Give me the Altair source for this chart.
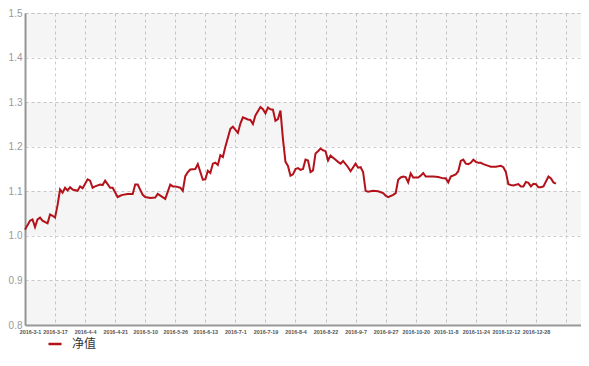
import altair as alt
import pandas as pd

# trading-day index and net value
days = [0, 2, 3, 4, 5, 6, 7, 9, 10, 11, 12, 13, 14, 15, 16, 17, 18, 19, 21, 22, 23, 25, 26, 27, 28,
        30, 31, 32, 34, 35, 37, 38, 39, 41, 43, 44, 45, 47, 48, 50, 52, 53, 56, 58, 59, 60, 62, 63,
        64, 65, 66, 68, 69, 71, 72, 73, 74, 75, 76, 77, 78, 79, 80, 82, 83, 85, 86, 87, 89, 90, 91,
        92, 94, 95, 96, 97, 98, 99, 100, 101, 102, 103, 104, 105, 106, 107, 108, 109, 110, 111, 112,
        113, 114, 115, 116, 117, 118, 119, 120, 121, 122, 124, 125, 126, 127, 129, 130, 132, 133,
        134, 135, 136, 137, 139, 141, 143, 144, 145, 147, 148, 149, 150, 151, 152, 153, 154, 155,
        157, 158, 159, 160, 163, 165, 167, 168, 169, 170, 172, 173, 174, 175, 176, 177, 178, 179,
        180, 181, 182, 183, 185, 186, 188, 190, 191, 192, 193, 194, 195, 197, 198, 199, 200, 201,
        202, 203, 204, 205, 206, 207, 209, 210, 211, 212]
nav = [1.014, 1.034, 1.037, 1.020, 1.037, 1.041, 1.034, 1.028, 1.048, 1.045, 1.041, 1.069, 1.104,
       1.097, 1.108, 1.102, 1.109, 1.104, 1.101, 1.111, 1.107, 1.127, 1.124, 1.108, 1.111, 1.115,
       1.114, 1.124, 1.108, 1.108, 1.087, 1.090, 1.092, 1.094, 1.094, 1.115, 1.115, 1.092, 1.087,
       1.085, 1.086, 1.094, 1.083, 1.115, 1.111, 1.111, 1.108, 1.101, 1.134, 1.143, 1.149, 1.150,
       1.161, 1.126, 1.127, 1.146, 1.141, 1.162, 1.164, 1.159, 1.181, 1.177, 1.200, 1.240, 1.245,
       1.231, 1.252, 1.266, 1.261, 1.260, 1.251, 1.270, 1.289, 1.284, 1.275, 1.288, 1.284, 1.283,
       1.258, 1.262, 1.281, 1.217, 1.166, 1.157, 1.135, 1.138, 1.150, 1.152, 1.148, 1.150, 1.171,
       1.169, 1.143, 1.147, 1.185, 1.190, 1.196, 1.192, 1.190, 1.169, 1.180, 1.171, 1.166, 1.162,
       1.168, 1.154, 1.145, 1.162, 1.153, 1.154, 1.143, 1.101, 1.099, 1.101, 1.100, 1.096, 1.090,
       1.087, 1.092, 1.096, 1.126, 1.131, 1.133, 1.132, 1.120, 1.140, 1.131, 1.131, 1.135, 1.141,
       1.133, 1.133, 1.132, 1.129, 1.129, 1.120, 1.133, 1.138, 1.145, 1.168, 1.171, 1.162, 1.161,
       1.164, 1.171, 1.166, 1.164, 1.164, 1.161, 1.157, 1.155, 1.155, 1.157, 1.154, 1.143, 1.116,
       1.114, 1.113, 1.116, 1.111, 1.111, 1.121, 1.119, 1.111, 1.117, 1.116, 1.109, 1.109, 1.111,
       1.133, 1.129, 1.120, 1.117]

x_labels = ["2016-3-1", "2016-3-17", "2016-4-4", "2016-4-21", "2016-5-10", "2016-5-26",
            "2016-6-13", "2016-7-1", "2016-7-19", "2016-8-4", "2016-8-22", "2016-9-7",
            "2016-9-27", "2016-10-20", "2016-11-8", "2016-11-24", "2016-12-12", "2016-12-28"]
y_ticks = [0.8, 0.9, 1.0, 1.1, 1.2, 1.3, 1.4, 1.5]
band_lo = [0.8, 1.0, 1.2, 1.4]
band_hi = [0.9, 1.1, 1.3, 1.5]
series_name = "净值"

TICK_STEP = 12
X_MAX = 222
tick_vals = [i * TICK_STEP for i in range(len(x_labels) + 1)]
label_arr = "[" + ",".join("'" + s + "'" for s in x_labels + [""]) + "]"

W, H = 556, 312
LINE_COLOR = "#b3121a"

df = pd.DataFrame({"day": days, "nav": nav, "series": series_name})
bands = pd.DataFrame({"lo": band_lo, "hi": band_hi})

x_scale = alt.Scale(domain=[0, X_MAX], nice=False, zero=False)
y_scale = alt.Scale(domain=[0.8, 1.5], nice=False, zero=False)

band_layer = alt.Chart(bands).mark_rect(fill="#000000", fillOpacity=0.04).encode(
    y=alt.Y("lo:Q", scale=y_scale),
    y2="hi:Q",
    x=alt.value(0),
    x2=alt.value(W),
)

line_layer = alt.Chart(df).mark_line(strokeWidth=2).encode(
    x=alt.X("day:Q", scale=x_scale,
            axis=alt.Axis(values=tick_vals, labelExpr=label_arr + "[round(datum.value/12)]",
                          title=None, grid=True, gridColor="#cccccc", gridDash=[3, 3],
                          domainColor="#999999", domainWidth=2, ticks=False,
                          labelFontSize=5.4, labelColor="#555555", labelPadding=4,
                          labelOffset={"condition": {"test": "datum.value == 0", "value": 5},
                                       "value": 0},
                          labelOverlap=False, labelFlush=False,
                          labelFont="Liberation Sans", labelFontWeight="bold")),
    y=alt.Y("nav:Q", scale=y_scale,
            axis=alt.Axis(values=y_ticks, format=".1f", title=None, grid=True,
                          gridColor="#cccccc", gridDash=[3, 3], domainColor="#999999",
                          domainWidth=2, ticks=False, labelFontSize=10,
                          labelColor="#999999", labelPadding=3, labelFont="Liberation Sans")),
    color=alt.Color("series:N",
                    scale=alt.Scale(domain=[series_name], range=[LINE_COLOR]),
                    legend=alt.Legend(title=None, orient="none", legendX=22, legendY=323,
                                      symbolType="stroke", symbolStrokeWidth=2.5,
                                      symbolSize=170, labelFontSize=12, labelColor="#333333",
                                      labelFont="Noto Sans CJK SC", labelOffset=9, padding=0)),
)

chart = alt.layer(band_layer, line_layer).properties(
    width=W, height=H, padding={"left": 0, "top": 0, "right": 0, "bottom": 0}
).configure_view(stroke="#cccccc", strokeDash=[3, 3])

chart.save("out.html", embed_options={"renderer": "svg", "actions": False})
